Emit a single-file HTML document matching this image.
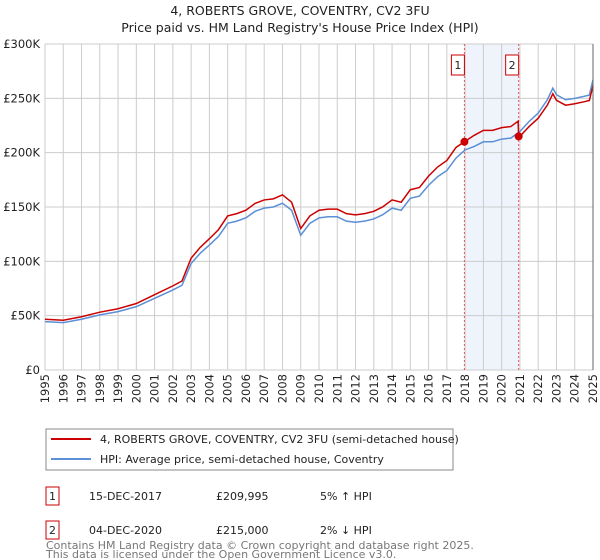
<!DOCTYPE html>
<html><head><meta charset="utf-8"><style>
body{margin:0;background:#fff;font-family:"DejaVu Sans","Liberation Sans",sans-serif;}
svg{display:block}
</style></head><body>
<svg id="c" width="600" height="560" xmlns="http://www.w3.org/2000/svg">
<text x="300" y="15" text-anchor="middle" font-size="12.5" fill="#222">4, ROBERTS GROVE, COVENTRY, CV2 3FU</text>
<text x="300" y="32" text-anchor="middle" font-size="12.5" fill="#222">Price paid vs. HM Land Registry's House Price Index (HPI)</text>
<g id="plot"></g>
<g>
<rect x="46" y="429" width="407" height="41" fill="#fff" stroke="#888"/>
<line x1="51" y1="439" x2="91" y2="439" stroke="#cc0000" stroke-width="2"/>
<text x="100" y="443" font-size="11" fill="#222">4, ROBERTS GROVE, COVENTRY, CV2 3FU (semi-detached house)</text>
<line x1="51" y1="459" x2="91" y2="459" stroke="#5b8fd6" stroke-width="2"/>
<text x="100" y="463" font-size="11" fill="#222">HPI: Average price, semi-detached house, Coventry</text>
</g>
<g font-size="11" fill="#222">
<rect x="46" y="487" width="13" height="18" fill="#fff" stroke="#cc0000"/>
<text x="52.5" y="500" text-anchor="middle">1</text>
<text x="89" y="500">15-DEC-2017</text><text x="216" y="500">£209,995</text><text x="320" y="500">5% ↑ HPI</text>
<rect x="46" y="521" width="13" height="18" fill="#fff" stroke="#cc0000"/>
<text x="52.5" y="534" text-anchor="middle">2</text>
<text x="89" y="534">04-DEC-2020</text><text x="216" y="534">£215,000</text><text x="320" y="534">2% ↓ HPI</text>
</g>
<text x="46" y="549" font-size="11" fill="#777">Contains HM Land Registry data © Crown copyright and database right 2025.</text>
<text x="46" y="558" font-size="11" fill="#777">This data is licensed under the Open Government Licence v3.0.</text>
</svg>
<script>
const yTicks=[0,50,100,150,200,250,300];
const yTickLabels=["£0","£50K","£100K","£150K","£200K","£250K","£300K"];
const xTicks=[1995,1996,1997,1998,1999,2000,2001,2002,2003,2004,2005,2006,2007,2008,2009,2010,2011,2012,2013,2014,2015,2016,2017,2018,2019,2020,2021,2022,2023,2024,2025];
const hpiYears=[1995,1996,1997,1998,1999,2000,2001,2002,2002.5,2003,2003.5,2004,2004.5,2005,2005.5,2006,2006.5,2007,2007.5,2008,2008.5,2009,2009.5,2010,2010.5,2011,2011.5,2012,2012.5,2013,2013.5,2014,2014.5,2015,2015.5,2016,2016.5,2017,2017.5,2018,2018.5,2019,2019.5,2020,2020.5,2021,2021.5,2022,2022.5,2022.8,2023,2023.5,2024,2024.5,2024.8,2025];
const hpiValues=[44.5,43.6,46.7,50.7,53.7,58.3,66,73.7,78,98,107.5,115,123,135,137,140,146,149,150,153.5,147,124,135,140,141,141,137,136,137,139,143,149,147,158,160,170,178,183.6,195,202.6,205.7,210,210,212.5,213.4,219.5,228.7,236.4,248.7,259.4,253.3,248.7,250,251.8,253,267];
const priceYears=[1995,1996,1997,1998,1999,2000,2001,2002,2002.5,2003,2003.5,2004,2004.5,2005,2005.5,2006,2006.5,2007,2007.5,2008,2008.5,2009,2009.5,2010,2010.5,2011,2011.5,2012,2012.5,2013,2013.5,2014,2014.5,2015,2015.5,2016,2016.5,2017,2017.5,2017.96,2018.5,2019,2019.5,2020,2020.5,2020.9,2020.93,2021,2021.5,2022,2022.5,2022.8,2023,2023.5,2024,2024.5,2024.8,2025];
const priceValues=[46.7,45.8,49,53.2,56.4,61.2,69.3,77.4,81.9,102.9,112.9,120.8,129.2,141.8,143.9,147,153.3,156.5,157.5,161.2,154.4,130.2,141.8,147,148,148,143.9,142.8,143.9,146,150.2,156.5,154.4,165.9,168,178.5,186.9,192.8,204.8,209.995,216,220.5,220.5,223,224,229,215,215.1,224,231.7,243.7,254.2,248.2,243.7,245,246.8,248,261.7];
const saleYears=[2017.96,2020.93];
const saleValues=[209.995,215];
const saleLabels=["1","2"];
const X0=45,X1=593,Y0=370,Y1=44;
const xs=y=>X0+(y-1995)/30*(X1-X0);
const ys=v=>Y0-v/300*(Y0-Y1);
const NS="http://www.w3.org/2000/svg";
const g=document.getElementById('plot');
function mk(t,a){const e=document.createElementNS(NS,t);for(const k in a)e.setAttribute(k,a[k]);g.appendChild(e);return e;}
const shade=mk('rect',{x:xs(saleYears[0]),y:Y1,width:xs(saleYears[1])-xs(saleYears[0]),height:Y0-Y1,fill:'#eef3fc'});


xTicks.forEach(t=>{const l=mk('line',{x1:xs(t),x2:xs(t),y1:Y1,y2:Y0,stroke:'#ccc','stroke-width':1});


const tx=mk('text',{x:0,y:0,transform:`translate(${xs(t)+4},${Y0+4}) rotate(-90)`,'text-anchor':'end','font-size':11.5,fill:'#222'});tx.textContent=t;

});
yTicks.forEach((t,i)=>{const l=mk('line',{x1:X0,x2:X1,y1:ys(t),y2:ys(t),stroke:'#ccc','stroke-width':1});


const tx=mk('text',{x:X0-5,y:ys(t)+4,'text-anchor':'end','font-size':11.5,fill:'#222'});tx.textContent=yTickLabels[i];

});
saleYears.forEach((s,i)=>{const l=mk('line',{x1:xs(s),x2:xs(s),y1:Y1,y2:Y0,stroke:'#e55','stroke-width':1,'stroke-dasharray':'2,2'});


const r=mk('rect',{x:xs(s)-13,y:55,width:13,height:20,fill:'#fff',stroke:'#cc0000'});


const t=mk('text',{x:xs(s)-6.5,y:69,'text-anchor':'middle','font-size':11,fill:'#222'});t.textContent=saleLabels[i];

});
const hp=mk('polyline',{points:hpiYears.map((y,i)=>xs(y)+','+ys(hpiValues[i])).join(' '),fill:'none',stroke:'#5b8fd6','stroke-width':1.5});


const pp=mk('polyline',{points:priceYears.map((y,i)=>xs(y)+','+ys(priceValues[i])).join(' '),fill:'none',stroke:'#cc0000','stroke-width':1.5});


saleYears.forEach((s,i)=>{const c=mk('circle',{cx:xs(s),cy:ys(saleValues[i]),r:4,fill:'#cc0000'});

});
const ax=mk('line',{x1:X1,x2:X1,y1:Y1,y2:Y0,stroke:'#666','stroke-width':1});


</script>
</body></html>
